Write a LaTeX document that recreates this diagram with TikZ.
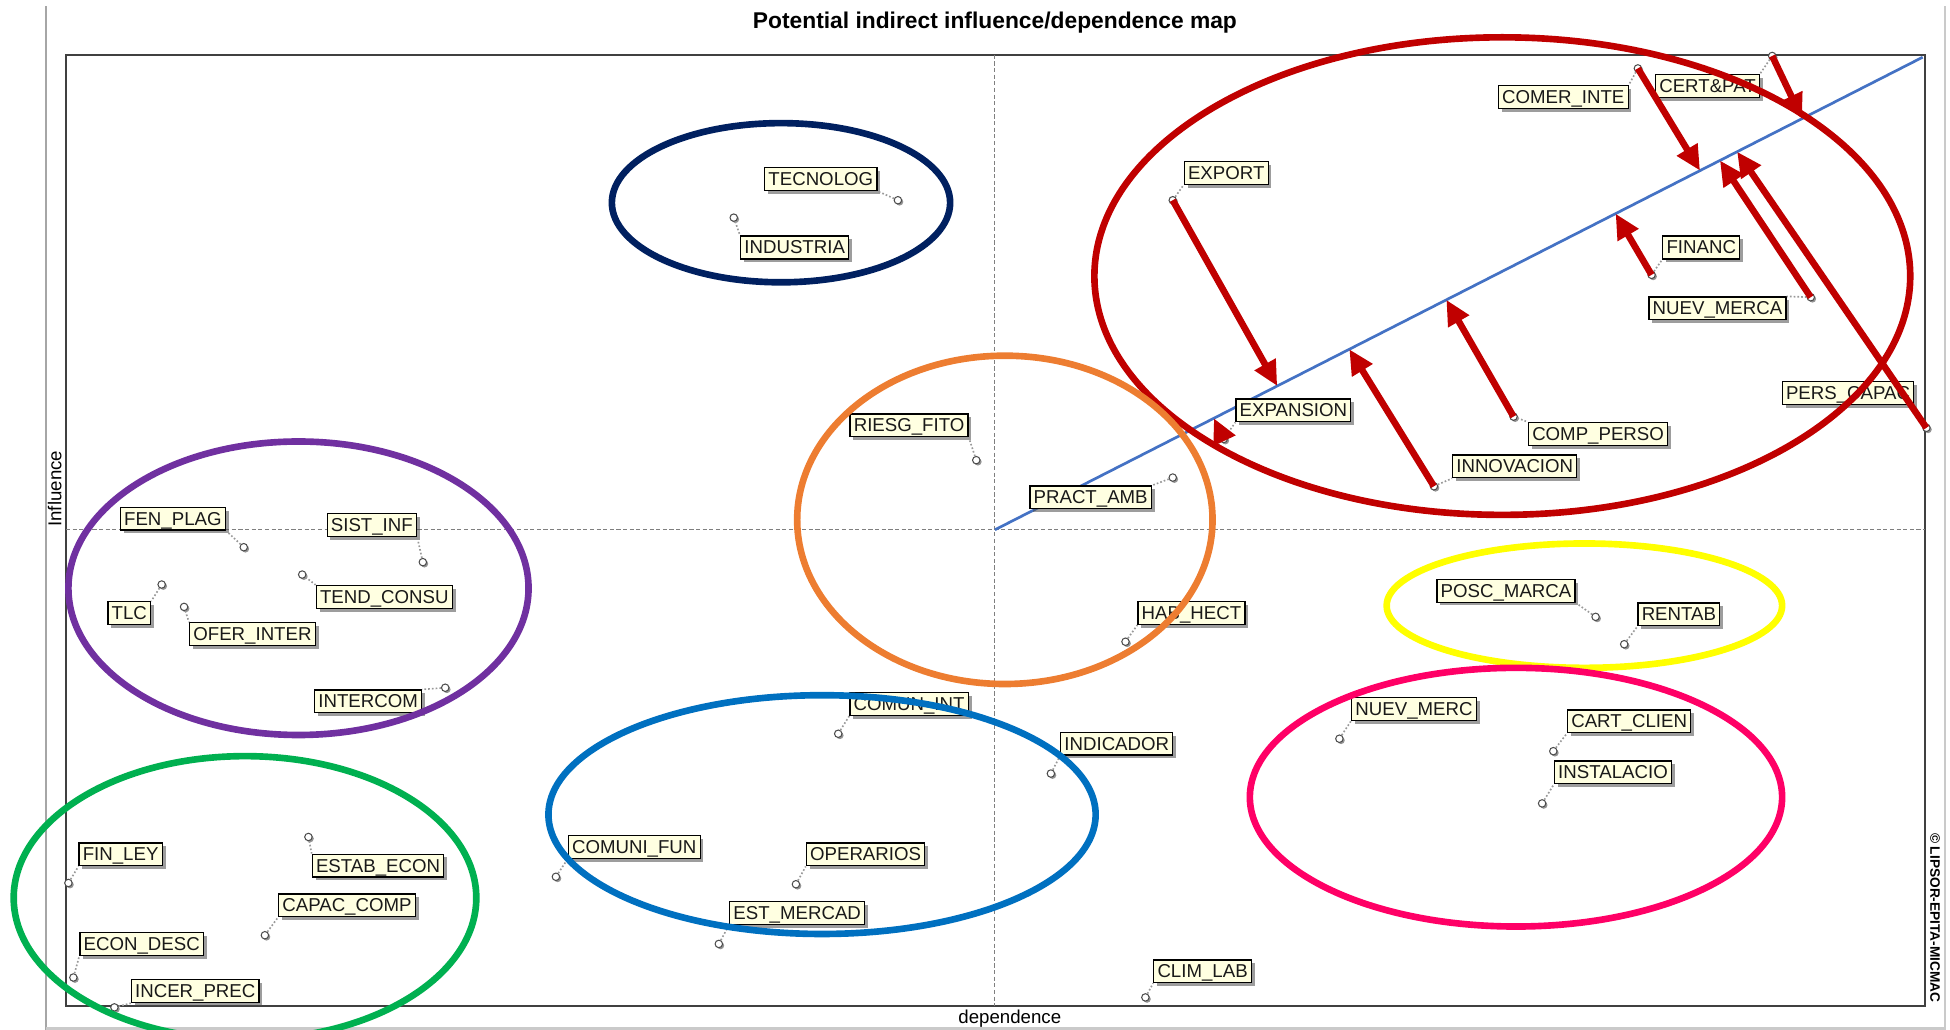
\documentclass[tikz,border=0pt]{standalone}
\usepackage{fontspec}
\setmainfont{Liberation Sans}
\usetikzlibrary{arrows.meta,shadows,calc}

\definecolor{labelfill}{HTML}{FFFFE1}
\definecolor{framegray}{HTML}{404040}
\definecolor{windowgray}{HTML}{A6A6A6}
\definecolor{axisgray}{HTML}{7F7F7F}
\definecolor{diagblue}{HTML}{4472C4}
\definecolor{arrowred}{HTML}{C00000}
\definecolor{grpnavy}{HTML}{002060}
\definecolor{grpred}{HTML}{C00000}
\definecolor{grporange}{HTML}{ED7D31}
\definecolor{grppurple}{HTML}{7030A0}
\definecolor{grpyellow}{HTML}{FFFF00}
\definecolor{grppink}{HTML}{FF0066}
\definecolor{grpblue}{HTML}{0070C0}
\definecolor{grpgreen}{HTML}{00B050}

\tikzset{
  lbl/.style={draw=black, line width=0.6pt, fill=labelfill, text=black!90,
    font=\fontsize{9}{10}\selectfont, inner xsep=1.8pt, inner ysep=2pt,
    text height=6.6pt, text depth=0.4pt,
    drop shadow={shadow xshift=1.6pt, shadow yshift=-1.6pt, opacity=0.55, fill=black!70}},
  varpt/.style={circle, draw=black!70, fill=white, inner sep=0pt, minimum size=3.6pt,
    line width=0.5pt,
    drop shadow={shadow xshift=0.8pt, shadow yshift=-0.8pt, opacity=0.6, fill=black!70}},
  leader/.style={draw=black!40, densely dotted, line width=0.8pt},
  grp/.style={line width=3.2pt},
  infl/.style={draw=arrowred, line width=3.2pt, -{Triangle[length=12pt,width=11pt]}},
  axisline/.style={draw=axisgray, dashed, dash pattern=on 2pt off 1.2pt, line width=0.5pt},
}

\begin{document}
\begin{tikzpicture}[x=0.6pt,y=-0.6pt]
\useasboundingbox (0,0) rectangle (1568,828);

% window border lines
\draw[windowgray, line width=1.2pt] (37,5) -- (37,828);
\draw[windowgray!60, line width=1.2pt] (1564,5) -- (1564,828);
\draw[windowgray!60, line width=1pt] (37,827) -- (1564,827);

% title and axis names
\node[font=\fontsize{11}{12}\selectfont\bfseries] (title) at (800,18) {Potential indirect influence/dependence map};
\node[font=\fontsize{9}{10}\selectfont, rotate=90] (yname) at (44,393) {Influence};
\node[font=\fontsize{9}{10}\selectfont] (xname) at (812,819) {dependence};
\node[font=\fontsize{6.6}{7}\selectfont\bfseries, rotate=-90] (copy) at (1556,738) {© LIPSOR-EPITA-MICMAC};

% plot area
\draw[framegray, line width=0.9pt] (53,44) rectangle (1548,809);
\coordinate (o) at (800,426);
\draw[axisline] (800,44) -- (800,809);
\draw[axisline] (53,426) -- (1548,426);

% diagonal
\coordinate (diagend) at (1546,46);
\draw[diagblue, line width=1.3pt] (o) -- (diagend);

% variable markers
\node[varpt] (p-tecnolog) at (722,161) {};
\node[varpt] (p-industria) at (590,175) {};
\node[varpt] (p-export) at (943,161) {};
\node[varpt] (p-comer) at (1317,55) {};
\node[varpt] (p-cert) at (1425,45) {};
\node[varpt] (p-financ) at (1328,221) {};
\node[varpt] (p-nuevmerca) at (1456,239) {};
\node[varpt] (p-pers) at (1549,344) {};
\node[varpt] (p-expansion) at (984,353) {};
\node[varpt] (p-comp) at (1217,335) {};
\node[varpt] (p-innov) at (1153,391) {};
\node[varpt] (p-riesg) at (785,370) {};
\node[varpt] (p-pract) at (943,384) {};
\node[varpt] (p-hab) at (905,516) {};
\node[varpt] (p-posc) at (1283,496) {};
\node[varpt] (p-rentab) at (1306,518) {};
\node[varpt] (p-nuevmerc) at (1077,594) {};
\node[varpt] (p-cart) at (1249,604) {};
\node[varpt] (p-instal) at (1240,646) {};
\node[varpt] (p-indic) at (845,622) {};
\node[varpt] (p-comunint) at (674,590) {};
\node[varpt] (p-comunifun) at (447,705) {};
\node[varpt] (p-operarios) at (640,711) {};
\node[varpt] (p-estmerc) at (578,759) {};
\node[varpt] (p-clim) at (921,802) {};
\node[varpt] (p-fen) at (196,440) {};
\node[varpt] (p-sist) at (340,452) {};
\node[varpt] (p-tlc) at (130,470) {};
\node[varpt] (p-ofer) at (148,488) {};
\node[varpt] (p-tend) at (243,462) {};
\node[varpt] (p-intercom) at (358,553) {};
\node[varpt] (p-finley) at (55,710) {};
\node[varpt] (p-estab) at (248,673) {};
\node[varpt] (p-capac) at (213,752) {};
\node[varpt] (p-econ) at (59,786) {};
\node[varpt] (p-incer) at (92,810) {};

% variable labels
\node[lbl] (tecnolog) at (660,144) {TECNOLOG};
\node[lbl] (industria) at (639,199) {INDUSTRIA};
\node[lbl] (export) at (986,139) {EXPORT};
\node[lbl] (comer) at (1257,78) {COMER\_INTE};
\node[lbl] (cert) at (1373,69) {CERT\&PAT};
\node[lbl] (financ) at (1368,199) {FINANC};
\node[lbl] (nuevmerca) at (1381,248) {NUEV\_MERCA};
\node[lbl] (pers) at (1486,316) {PERS\_CAPAC};
\node[lbl] (expansion) at (1040,330) {EXPANSION};
\node[lbl] (comp) at (1285,349) {COMP\_PERSO};
\node[lbl] (innov) at (1218,375) {INNOVACION};
\node[lbl] (riesg) at (731,342) {RIESG\_FITO};
\node[lbl] (pract) at (877,400) {PRACT\_AMB};
\node[lbl] (hab) at (958,493) {HAB\_HECT};
\node[lbl] (posc) at (1211,475) {POSC\_MARCA};
\node[lbl] (rentab) at (1350,494) {RENTAB};
\node[lbl] (nuevmerc) at (1137,570) {NUEV\_MERC};
\node[lbl] (cart) at (1310,580) {CART\_CLIEN};
\node[lbl] (instal) at (1297,621) {INSTALACIO};
\node[lbl] (indic) at (898,598) {INDICADOR};
\node[lbl] (comunint) at (731,566) {COMUN\_INT};
\node[lbl] (comunifun) at (510,681) {COMUNI\_FUN};
\node[lbl] (operarios) at (696,687) {OPERARIOS};
\node[lbl] (estmerc) at (641,734) {EST\_MERCAD};
\node[lbl] (clim) at (967,781) {CLIM\_LAB};
\node[lbl] (fen) at (139,417) {FEN\_PLAG};
\node[lbl] (sist) at (299,422) {SIST\_INF};
\node[lbl] (tlc) at (104,493) {TLC};
\node[lbl] (ofer) at (203,510) {OFER\_INTER};
\node[lbl] (tend) at (309,480) {TEND\_CONSU};
\node[lbl] (intercom) at (296,564) {INTERCOM};
\node[lbl] (finley) at (97,687) {FIN\_LEY};
\node[lbl] (estab) at (304,696) {ESTAB\_ECON};
\node[lbl] (capac) at (279,728) {CAPAC\_COMP};
\node[lbl] (econ) at (114,759) {ECON\_DESC};
\node[lbl] (incer) at (157,797) {INCER\_PREC};

% leaders from markers to labels
\draw[leader] (p-tecnolog) -- (tecnolog.south east);
\draw[leader] (p-industria) -- (industria.north west);
\draw[leader] (p-export) -- (export.south west);
\draw[leader] (p-comer) -- (comer.north east);
\draw[leader] (p-cert) -- (cert.north east);
\draw[leader] (p-financ) -- (financ.south west);
\draw[leader] (p-nuevmerca) -- (nuevmerca.north east);
\draw[leader] (p-pers) -- (pers.south east);
\draw[leader] (p-expansion) -- (expansion.south west);
\draw[leader] (p-comp) -- (comp.north west);
\draw[leader] (p-innov) -- (innov.south west);
\draw[leader] (p-riesg) -- (riesg.south east);
\draw[leader] (p-pract) -- (pract.north east);
\draw[leader] (p-hab) -- (hab.south west);
\draw[leader] (p-posc) -- (posc.south east);
\draw[leader] (p-rentab) -- (rentab.south west);
\draw[leader] (p-nuevmerc) -- (nuevmerc.south west);
\draw[leader] (p-cart) -- (cart.south west);
\draw[leader] (p-instal) -- (instal.south west);
\draw[leader] (p-indic) -- (indic.south west);
\draw[leader] (p-comunint) -- (comunint.south west);
\draw[leader] (p-comunifun) -- (comunifun.south west);
\draw[leader] (p-operarios) -- (operarios.south west);
\draw[leader] (p-estmerc) -- (estmerc.south west);
\draw[leader] (p-clim) -- (clim.south west);
\draw[leader] (p-fen) -- (fen.south east);
\draw[leader] (p-sist) -- (sist.south east);
\draw[leader] (p-tlc) -- (tlc.north east);
\draw[leader] (p-ofer) -- (ofer.north west);
\draw[leader] (p-tend) -- (tend.north west);
\draw[leader] (p-intercom) -- (intercom.north east);
\draw[leader] (p-finley) -- (finley.south west);
\draw[leader] (p-estab) -- (estab.north west);
\draw[leader] (p-capac) -- (capac.south west);
\draw[leader] (p-econ) -- (econ.south west);
\draw[leader] (p-incer) -- (incer.south west);

% group outlines
\draw[grp, grpnavy] (628,163) ellipse [x radius=136, y radius=64];
\draw[grp, grpred] (1208,222) ellipse [x radius=328, y radius=192];
\draw[grp, grporange] (808,418) ellipse [x radius=167, y radius=132];
\draw[grp, grppurple] (240,473) ellipse [x radius=185, y radius=118];
\draw[grp, grpyellow] (1274,487) ellipse [x radius=159, y radius=50];
\draw[grp, grppink] (1219,641) ellipse [x radius=214, y radius=104];
\draw[grp, grpblue] (661,655) ellipse [x radius=220, y radius=96];
\draw[grp, grpgreen] (197,722) ellipse [x radius=186, y radius=114];

% points on the diagonal reached by the arrows
\coordinate (t-export) at ($(o)!0.3043!(diagend)$);
\coordinate (t-comer) at ($(o)!0.7600!(diagend)$);
\coordinate (t-cert) at ($(o)!0.8700!(diagend)$);
\coordinate (t-nuevmerca) at ($(o)!0.7815!(diagend)$);
\coordinate (t-pers) at ($(o)!0.8000!(diagend)$);
\coordinate (t-financ) at ($(o)!0.6690!(diagend)$);
\coordinate (t-comp) at ($(o)!0.4866!(diagend)$);
\coordinate (t-innov) at ($(o)!0.3820!(diagend)$);
\coordinate (t-expansion) at ($(o)!0.2360!(diagend)$);

% displacement arrows
\draw[infl] (p-export.center) -- (t-export);
\draw[infl] (p-comer.center) -- (t-comer);
\draw[infl] (p-cert.center) -- (t-cert);
\draw[infl] (p-nuevmerca.center) -- (t-nuevmerca);
\draw[infl] (p-pers.center) -- (t-pers);
\draw[infl] (p-financ.center) -- (t-financ);
\draw[infl] (p-comp.center) -- (t-comp);
\draw[infl] (p-innov.center) -- (t-innov);
\draw[infl] (p-expansion.center) -- (t-expansion);
\end{tikzpicture}
\end{document}
